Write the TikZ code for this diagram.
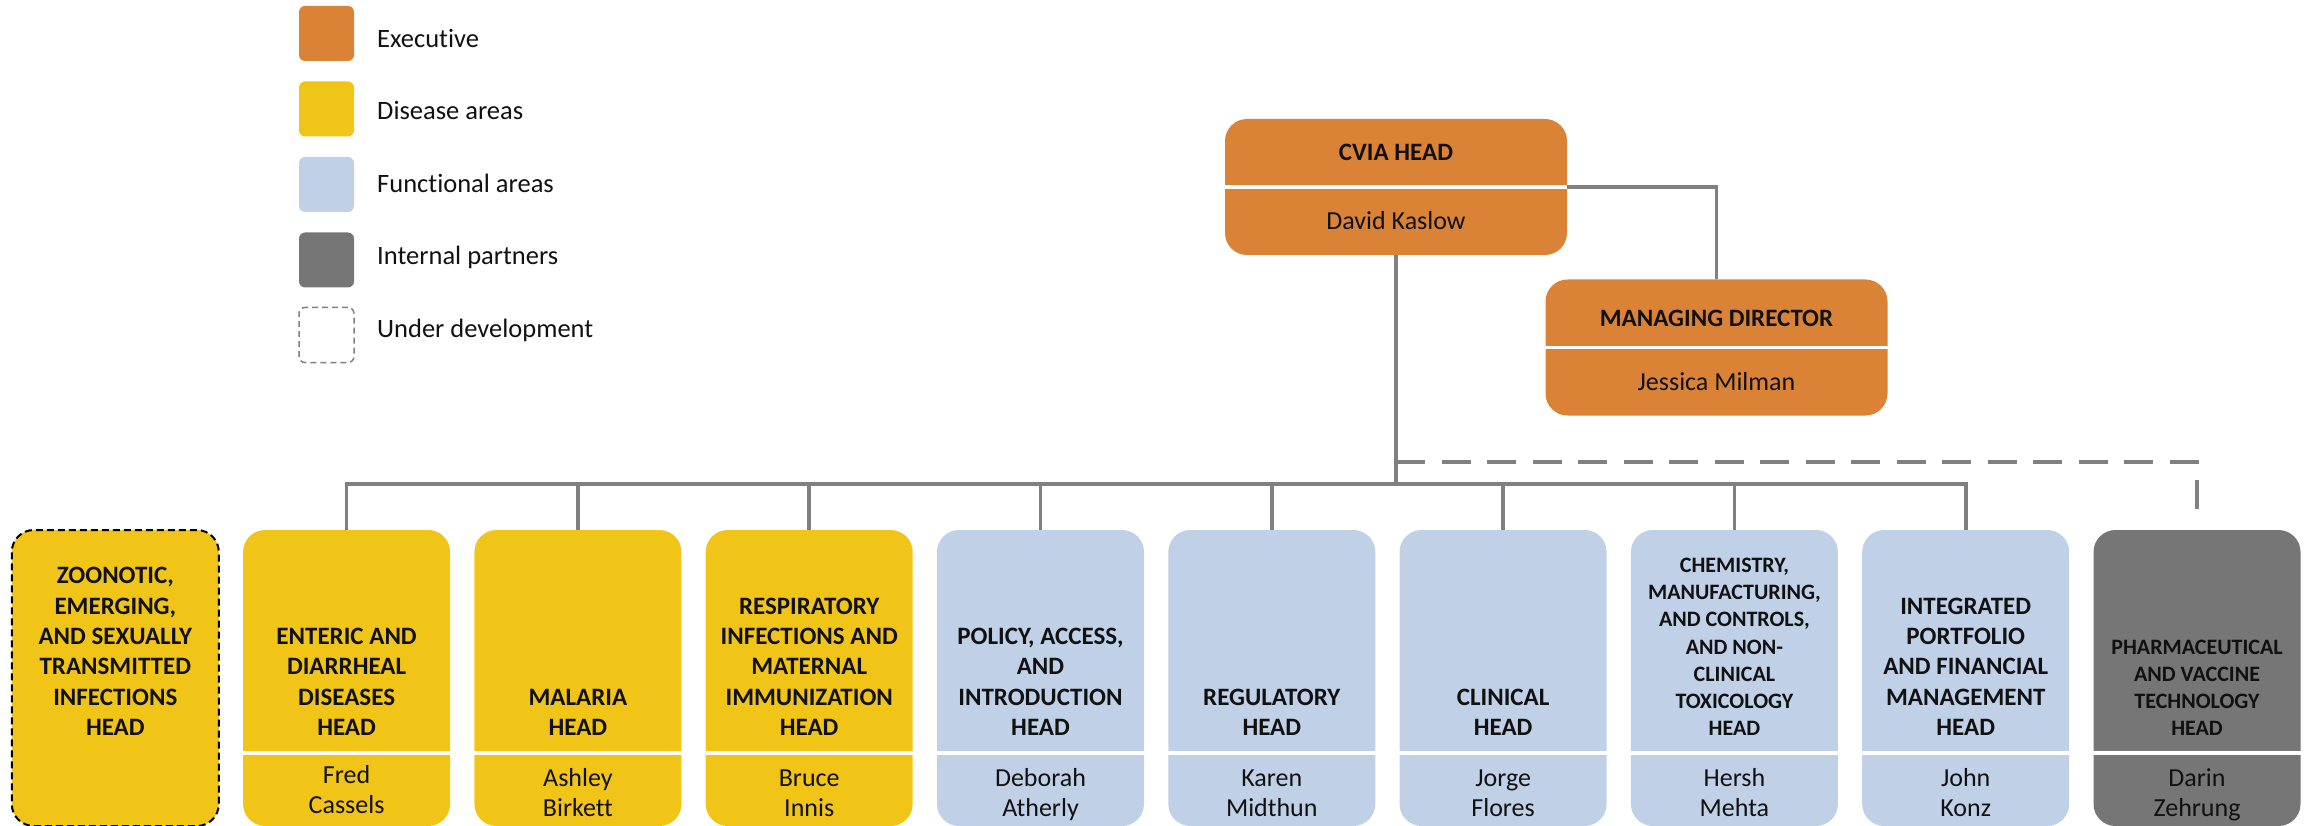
\documentclass[tikz,border=0pt]{standalone}
\usepackage{fontspec}
\setmainfont{Carlito}[Ligatures=NoCommon]
\definecolor{execc}{HTML}{DA8236}
\definecolor{disc}{HTML}{F1C418}
\definecolor{funcc}{HTML}{C0D0E7}
\definecolor{intc}{HTML}{767676}
\definecolor{connc}{HTML}{808080}
\definecolor{txtc}{HTML}{111111}
\begin{document}
\begin{tikzpicture}[x=1pt,y=-1pt,
  card/.style={rectangle, rounded corners=22pt, inner sep=0pt, minimum width=207pt, minimum height=296pt, draw=none},
  execbox/.style={rectangle, rounded corners=22pt, inner sep=0pt, minimum width=342pt, minimum height=136pt, fill=execc},
  legsq/.style={rectangle, rounded corners=6pt, inner sep=0pt, minimum width=55pt, minimum height=55pt},
  legtxt/.style={anchor=base west, inner sep=0pt, text=txtc, font=\fontsize{26.5}{30}\selectfont},
  ttl/.style={anchor=south, align=center, inner sep=0pt, text depth=0pt, text=txtc, font=\bfseries\fontsize{25}{30.3}\selectfont},
  ttlsm/.style={ttl, font=\bfseries\fontsize{22}{27.1}\selectfont},
  nm/.style={anchor=south, align=center, inner sep=0pt, text depth=0pt, text=txtc, font=\fontsize{26}{30}\selectfont},
  exttl/.style={anchor=base, inner sep=0pt, text=txtc, font=\bfseries\fontsize{25}{30}\selectfont},
  exnm/.style={anchor=base, inner sep=0pt, text=txtc, font=\fontsize{26}{30}\selectfont},
  divline/.style={draw=white, line width=3.5pt},
  conn/.style={draw=connc, line width=3.6pt},
  dconn/.style={draw=connc, line width=3.6pt, dash pattern=on 29pt off 16.5pt}
]
\useasboundingbox (0,0) rectangle (2310,826);

% legend
\node[legsq, fill=execc] (l1) at (326.5,33.5) {};
\node[legsq, fill=disc] (l2) at (326.5,109) {};
\node[legsq, fill=funcc] (l3) at (326.5,184.5) {};
\node[legsq, fill=intc] (l4) at (326.5,260) {};
\node[legsq, fill=white, draw=connc, line width=1.5pt, dash pattern=on 6pt off 4pt] (l5) at (326.5,335) {};
\node[legtxt] (t1) at (377,48) {Executive};
\node[legtxt] (t2) at (377,120) {Disease areas};
\node[legtxt] (t3) at (377,193) {Functional areas};
\node[legtxt] (t4) at (377,265) {Internal partners};
\node[legtxt] (t5) at (377,337) {Under development};

% executive boxes
\node[execbox] (cvia) at (1396,187) {};
\draw[divline] (cvia.west) -- (cvia.east);
\node[exttl] at (1396,160.7) {CVIA HEAD};
\node[exnm] at (1396,229.3) {David Kaslow};

\node[execbox] (md) at (1716.5,347.5) {};
\draw[divline] (md.west) -- (md.east);
\node[exttl] at (1716.5,326.7) {MANAGING DIRECTOR};
\node[exnm] at (1716.5,390) {Jessica Milman};

% bottom boxes
\node[card, fill=disc, draw=black, line width=2pt, dash pattern=on 7pt off 4pt] (b1) at (115.3,678) {};
\node[card, fill=disc] (b2) at (346.6,678) {};
\node[card, fill=disc] (b3) at (577.9,678) {};
\node[card, fill=disc] (b4) at (809.2,678) {};
\node[card, fill=funcc] (b5) at (1040.5,678) {};
\node[card, fill=funcc] (b6) at (1271.8,678) {};
\node[card, fill=funcc] (b7) at (1503.1,678) {};
\node[card, fill=funcc] (b8) at (1734.4,678) {};
\node[card, fill=funcc] (b9) at (1965.7,678) {};
\node[card, fill=intc] (b10) at (2197,678) {};

\foreach \b in {b2,b3,b4,b5,b6,b7,b8,b9,b10}{
  \draw[divline] ([yshift=-75pt]\b.west) -- ([yshift=-75pt]\b.east);
}

\node[ttl] at (115.3,735.5) {ZOONOTIC,\\EMERGING,\\AND SEXUALLY\\TRANSMITTED\\INFECTIONS\\HEAD};
\node[ttl] at (346.6,735.5) {ENTERIC AND\\DIARRHEAL\\DISEASES\\HEAD};
\node[ttl] at (577.9,735.5) {MALARIA\\HEAD};
\node[ttl] at (809.2,735.5) {RESPIRATORY\\INFECTIONS AND\\MATERNAL\\IMMUNIZATION\\HEAD};
\node[ttl] at (1040.5,735.5) {POLICY, ACCESS,\\AND\\INTRODUCTION\\HEAD};
\node[ttl] at (1271.8,735.5) {REGULATORY\\HEAD};
\node[ttl] at (1503.1,735.5) {CLINICAL\\HEAD};
\node[ttlsm] at (1734.4,735.5) {CHEMISTRY,\\MANUFACTURING,\\AND CONTROLS,\\AND NON-\\CLINICAL\\TOXICOLOGY\\HEAD};
\node[ttl] at (1965.7,735.5) {INTEGRATED\\PORTFOLIO\\AND FINANCIAL\\MANAGEMENT\\HEAD};
\node[ttlsm] at (2197,735.5) {PHARMACEUTICAL\\AND VACCINE\\TECHNOLOGY\\HEAD};

\node[nm] at (346.6,814) {Fred\\Cassels};
\node[nm] at (577.9,816.5) {Ashley\\Birkett};
\node[nm] at (809.2,816.5) {Bruce\\Innis};
\node[nm] at (1040.5,816.5) {Deborah\\Atherly};
\node[nm] at (1271.8,816.5) {Karen\\Midthun};
\node[nm] at (1503.1,816.5) {Jorge\\Flores};
\node[nm] at (1734.4,816.5) {Hersh\\Mehta};
\node[nm] at (1965.7,816.5) {John\\Konz};
\node[nm] at (2197,816.5) {Darin\\Zehrung};

% connectors
\coordinate (bus) at (1396,484);
\coordinate (dj) at (1396,462);
\draw[conn] (cvia.east) -| (md.north);
\foreach \b in {b2,b3,b4,b5,b6,b7,b8,b9}{
  \draw[conn] (cvia.south) -- (bus) -| (\b.north);
}
\draw[dconn] (dj) -| ([yshift=15pt]b10.north);
\end{tikzpicture}
\end{document}
